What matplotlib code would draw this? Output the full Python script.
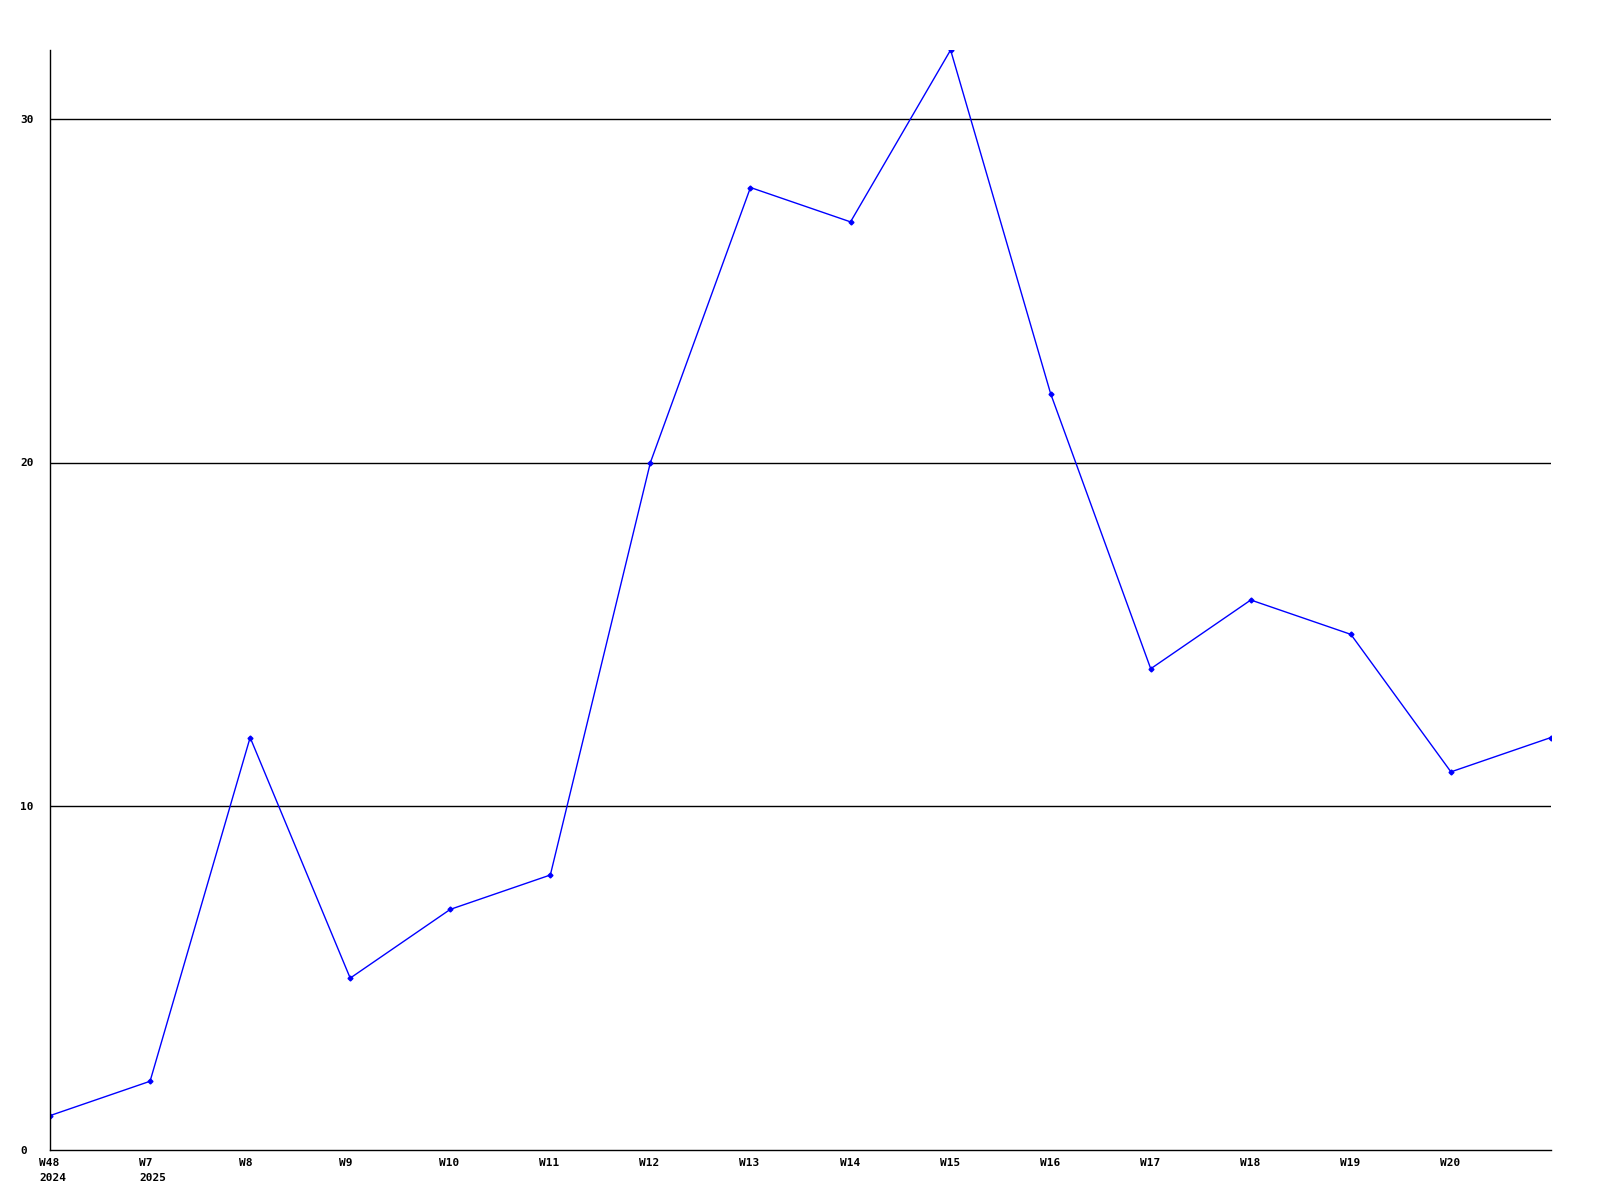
import numpy as np
import matplotlib
matplotlib.use("Agg")
import matplotlib.pyplot as plt
import matplotlib.transforms as mtransforms

# datos
semanas = ["W48\n2024", "W7\n2025", "W8", "W9", "W10", "W11", "W12", "W13",
           "W14", "W15", "W16", "W17", "W18", "W19", "W20", ""]
valores = [1, 2, 12, 5, 7, 8, 20, 28, 27, 32, 22, 14, 16, 15, 11, 12]
y_ticks = [0, 10, 20, 30]

plt.rcParams['font.family'] = ['DejaVu Sans Mono']

fig = plt.figure(figsize=(16, 12), dpi=100)
ax = fig.add_axes([50/1600, 1 - 1150/1200, 1501/1600, 1100/1200])

x = np.arange(len(valores))
ax.plot(x, valores, color='#0000ff', linewidth=1, marker='D', markersize=2.5)

ax.set_xlim(0, len(valores) - 1)
ax.set_ylim(0, 32)

# lineas de cuadricula
for yv in y_ticks[1:]:
    ax.axhline(yv, color='black', linewidth=1, zorder=0)

ax.tick_params(axis='x', length=0, pad=6)
ax.tick_params(axis='y', length=0, pad=0)

ax.set_xticks(x)
ax.set_xticklabels(semanas, fontsize=8, fontweight='bold', ha='left',
                   linespacing=1.6)
offset = mtransforms.ScaledTranslation(-11/100, 0, fig.dpi_scale_trans)
for lbl in ax.get_xticklabels():
    lbl.set_transform(lbl.get_transform() + offset)

ax.set_yticks(y_ticks)
ax.set_yticklabels([str(v) for v in y_ticks], fontsize=8, fontweight='bold', ha='left')
offy = mtransforms.ScaledTranslation(-30/100, 0, fig.dpi_scale_trans)
for lbl in ax.get_yticklabels():
    lbl.set_transform(lbl.get_transform() + offy)

ax.spines['top'].set_visible(False)
ax.spines['right'].set_visible(False)
ax.spines['left'].set_linewidth(1)
ax.spines['bottom'].set_linewidth(1)

fig.savefig("out.png", dpi=100)
